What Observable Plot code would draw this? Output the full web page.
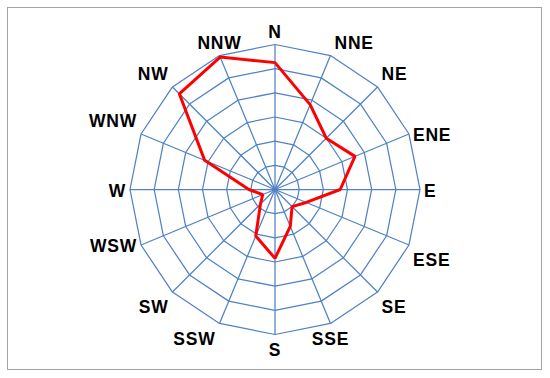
<!DOCTYPE html>
<html><head><meta charset="utf-8">
<script src="https://cdn.jsdelivr.net/npm/d3@7"></script>
<script src="https://cdn.jsdelivr.net/npm/@observablehq/plot@0.6"></script>
<style>
body{margin:0;background:#fff;}
#wrap{position:relative;width:550px;height:378px;overflow:hidden;}
#frame{position:absolute;left:7px;top:7px;width:535px;height:363px;border:1.5px solid #a3a3a3;box-sizing:border-box;pointer-events:none;}
#wrap svg{position:absolute;left:0;top:0;}
#wrap svg text{letter-spacing:0.8px;}
</style></head><body>
<div id="wrap"><div id="frame"></div></div>
<script>
const directions = ["N","NNE","NE","ENE","E","ESE","SE","SSE","S","SSW","SW","WSW","W","WNW","NW","NNW"];
const frequency = [5.25, 3.8, 3.0, 3.58, 2.7, 1.4, 1.0, 1.65, 2.85, 2.08, 0.85, 0.55, 1.08, 3.15, 5.6, 5.93];
const rings = [1, 2, 3, 4, 5, 6];
const maxValue = 6;

const W = 550, H = 378, cx = 274.5, cy = 189, R = 145;
const k = R / maxValue;
const n = directions.length;
const ang = i => i * 2 * Math.PI / n;
const px = (r, i) => r * Math.sin(ang(i));
const py = (r, i) => r * Math.cos(ang(i));

const gridPts = rings.flatMap(r => d3.range(n + 1).map(i => ({r, i: i % n})));
const spokes = directions.map((d, i) => ({d, i}));
const series = directions.map((d, i) => ({d, i, v: frequency[i]}));

// label placement rule (chart-style rotated quadrant)
function place(i) {
  const a = ang(i) + Math.PI / 16;
  const s = Math.sin(a), c = Math.cos(a);
  const h = s > 0.3 ? "start" : s < -0.3 ? "end" : "middle";
  const v = c > 0.3 ? "bottom" : c < -0.3 ? "top" : "middle";
  return {h, v};
}
const labels = directions.map((d, i) => ({d, i, ...place(i)}));
const hdx = {start: 4, end: -4, middle: 0};
const vdy = {bottom: -7, top: 9, middle: 1.5};
const font = {fontFamily: "Liberation Sans, Arial, sans-serif", fontSize: 17.5, fontWeight: "bold", fill: "#000"};
const labelMarks = [];
for (const h of ["start", "middle", "end"]) for (const v of ["top", "middle", "bottom"]) {
  const sub = labels.filter(l => l.h === h && l.v === v);
  if (!sub.length) continue;
  labelMarks.push(Plot.text(sub, {
    x: l => px(maxValue, l.i), y: l => py(maxValue, l.i), text: "d",
    textAnchor: h, lineAnchor: v, dx: hdx[h], dy: vdy[v], ...font
  }));
}

const chart = Plot.plot({
  width: W, height: H,
  marginTop: 0, marginRight: 0, marginBottom: 0, marginLeft: 0,
  x: {domain: [-cx / k, (W - cx) / k], axis: null},
  y: {domain: [-(H - cy) / k, cy / k], axis: null},
  style: {background: "transparent"},
  marks: [
    Plot.link(spokes, {x1: 0, y1: 0, x2: s => px(maxValue, s.i), y2: s => py(maxValue, s.i), stroke: "#4f82c4", strokeWidth: 1.25}),
    Plot.line(gridPts, {x: p => px(p.r, p.i), y: p => py(p.r, p.i), z: "r", stroke: "#4f82c4", strokeWidth: 1.25}),
    Plot.line(series, {x: s => px(s.v, s.i), y: s => py(s.v, s.i), curve: "linear-closed", stroke: "#ff0000", strokeWidth: 3, strokeLinejoin: "miter"}),
    ...labelMarks
  ]
});
document.getElementById("wrap").prepend(chart);
</script>
</body></html>
